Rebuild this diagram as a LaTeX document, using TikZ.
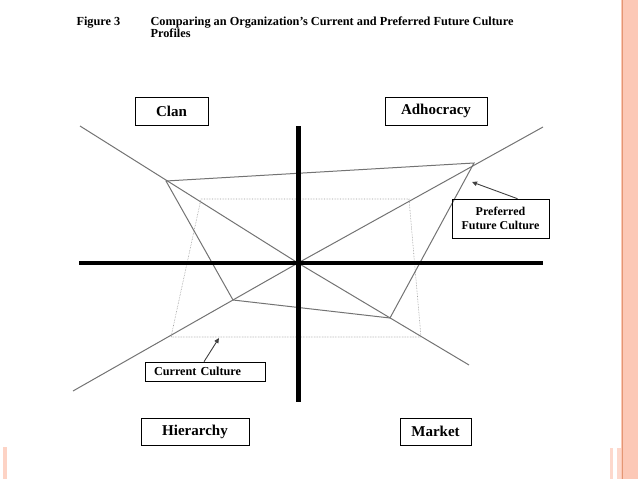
\documentclass[tikz,border=0pt]{standalone}
\usepackage{fontspec}
\setmainfont{Liberation Serif}
\usetikzlibrary{arrows.meta}
\definecolor{barpink}{RGB}{252,200,182}
\definecolor{barline}{RGB}{228,150,115}

\begin{document}
\begin{tikzpicture}[x=1pt, y=-1pt,
    every node/.style={font=\bfseries},
    quadbox/.style={draw, line width=0.6pt, inner sep=0pt, font=\fontsize{15}{17}\selectfont\bfseries},
    titletext/.style={anchor=base west, font=\fontsize{12.3}{14}\selectfont\bfseries},
    axis/.style={line width=4.5pt, black},
    diag/.style={line width=1pt, black!55},
    preferred/.style={line width=1pt, black!55, line join=miter},
    current/.style={line width=0.6pt, black!40, densely dotted},
    pointer/.style={line width=0.9pt, black!75, -{Triangle[length=5pt, width=4.5pt]}}]
      \useasboundingbox (0,0) rectangle (638,479);
      % side bars
      \fill[barpink] (620.5,0) rectangle (638,479);
      \draw[barline, line width=0.8pt] (622.4,0) -- (622.4,479);
      \fill[barpink!70] (610,448) rectangle (613,479);
      \fill[barpink!70] (617,448) rectangle (620.5,479);
      \fill[barpink!80] (3,447) rectangle (7,479);
      % title
      \node[titletext] (fig) at (73,26) {Figure 3};
      \node[titletext] (title) at (147,26) {Comparing an Organization’s Current and Preferred Future Culture};
      \node[titletext] (title2) at (147,37) {Profiles};
      % corner coordinates
      \coordinate (o) at (298,263);
      \coordinate (ul) at (80,126);
      \coordinate (ur) at (543,127);
      \coordinate (ll) at (73,391);
      \coordinate (lr) at (469,365);
      % diagonals
      \draw[diag] (ul) -- (o) -- (lr);
      \draw[diag] (ur) -- (o) -- (ll);
      % current culture
      \coordinate (c1) at (201,199);
      \coordinate (c2) at (409,199);
      \coordinate (c3) at (421,337);
      \coordinate (c4) at (171,337);
      \draw[current] (c1) -- (c2) -- (c3) -- (c4) -- cycle;
      % preferred culture
      \coordinate (p1) at (166,181);
      \coordinate (p2) at (474,163);
      \coordinate (p3) at (390,318);
      \coordinate (p4) at (233,300);
      \draw[preferred] (p1) -- (p2) -- (p3) -- (p4) -- cycle;
      % axes
      \coordinate (ytop) at (298.5,126);
      \coordinate (ybot) at (298.5,402);
      \coordinate (xl) at (79,263);
      \coordinate (xr) at (543,263);
      \draw[axis] (xl) -- (xr);
      \draw[axis] (ytop) -- (ybot);
      % quadrant labels
      \node[quadbox, minimum width=73pt, minimum height=28pt] (clan) at (171.5,111) {Clan};
      \node[quadbox, minimum width=102pt, minimum height=28pt] (adhoc) at (436,111) {Adhocracy};
      \node[quadbox, minimum width=108pt, minimum height=27pt] (hier) at (195,431.5) {Hierarchy};
      \node[quadbox, minimum width=71pt, minimum height=27pt] (market) at (435.5,431.5) {Market};
      % callouts
      \node[draw, line width=0.6pt, minimum width=97pt, minimum height=39pt, align=center,
        font=\fontsize{12}{14.5}\selectfont\bfseries] (pref) at (500.5,218.5) {Preferred\\Future Culture};
      \node[draw, line width=0.6pt, minimum width=120pt, minimum height=19pt, inner xsep=9pt,
        text width=102pt, align=left, font=\fontsize{12.2}{14}\selectfont\bfseries] (curr) at (205,371.5) {Current Culture};
      \coordinate (preftip) at (472,182);
      \coordinate (currtip) at (219,338);
      \draw[pointer] (pref.north) ++(17,0) -- (preftip);
      \draw[pointer] (curr.north) ++(-1,0) -- (currtip);
    \end{tikzpicture}
\end{document}
